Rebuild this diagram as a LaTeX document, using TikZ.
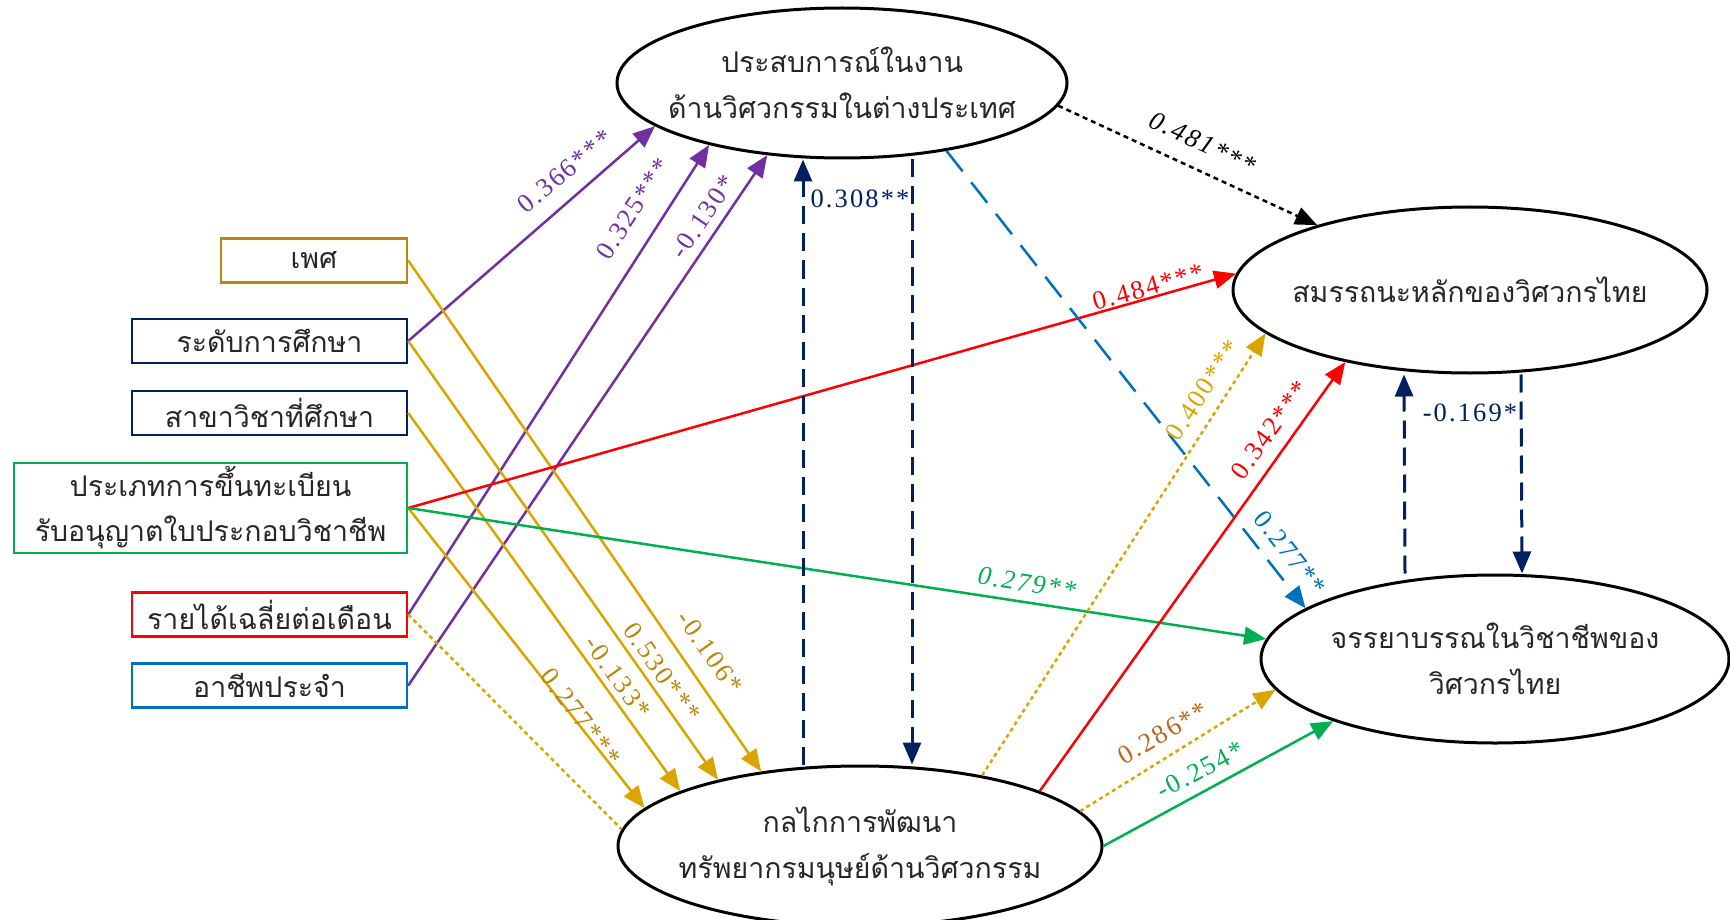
\documentclass[tikz,border=0pt]{standalone}
\usepackage{fontspec}
\setmainfont{Liberation Serif}
\newfontfamily\thaifont[Script=Thai]{Loma}
\newfontfamily\coeffont[LetterSpace=8]{Liberation Serif}
\usetikzlibrary{arrows.meta,shapes.geometric}

\definecolor{navy}{HTML}{002060}
\definecolor{purp}{HTML}{7030A0}
\definecolor{gold}{RGB}{218,165,0}
\definecolor{darkgold}{HTML}{B8860B}
\definecolor{grn}{HTML}{00B050}
\definecolor{blu}{HTML}{0070C0}
\definecolor{brn}{RGB}{192,100,25}

\tikzset{
	var/.style={draw=#1, line width=2.5pt, minimum width=275pt, minimum height=44pt, inner sep=0pt, align=center,
		font=\thaifont\fontsize{28.5}{45}\selectfont, text=black!85},
	latent/.style={ellipse, draw, line width=3pt, inner sep=-40pt, align=center,
		font=\thaifont\fontsize{28.5}{46}\selectfont, text=black!85},
	eff/.style={line width=2.5pt, -{Triangle[length=22pt,width=18pt]}},
	navydash/.style={eff, navy, line width=3pt, dash pattern=on 18pt off 9pt},
	goldline/.style={line width=2.5pt, gold, dash pattern=on 4pt off 3.5pt},
	coef/.style={font=\coeffont\fontsize{26.5}{26.5}\selectfont, inner sep=1pt},
}

\begin{document}
\begin{tikzpicture}[x=1pt, y=-1pt]
	\useasboundingbox (0,0) rectangle (1730,920);

	\node[var=darkgold, minimum width=186pt] (sex)   at (314,260.5) {เพศ};
	\node[var=navy]                          (edu)   at (269.5,341) {ระดับการศึกษา};
	\node[var=navy]                          (major) at (269.5,413) {สาขาวิชาที่ศึกษา};
	\node[var=grn, minimum width=393pt, minimum height=90pt] (lic) at (210.5,508)
		{ประเภทการขึ้นทะเบียน\\รับอนุญาตใบประกอบวิชาชีพ};
	\node[var=red]                           (inc)   at (269.5,614.5) {รายได้เฉลี่ยต่อเดือน};
	\node[var=blu]                           (job)   at (269.5,685.5) {อาชีพประจำ};

	\node[latent, minimum width=450pt, minimum height=150pt] (exp)   at (842,83)
		{ประสบการณ์ในงาน\\ด้านวิศวกรรมในต่างประเทศ};
	\node[latent, minimum width=474pt, minimum height=166pt] (comp)  at (1470,290)
		{สมรรถนะหลักของวิศวกรไทย};
	\node[latent, minimum width=468pt, minimum height=168pt] (ethic) at (1495,659)
		{จรรยาบรรณในวิชาชีพของ\\วิศวกรไทย};
	\node[latent, minimum width=484pt, minimum height=160pt] (mech)  at (860,846)
		{กลไกการพัฒนา\\ทรัพยากรมนุษย์ด้านวิศวกรรม};

	\draw[eff, purp] (edu.east) -- (exp.193.5);
	\draw[eff, purp] (inc.east) -- (exp.205.9);
	\draw[eff, purp] (job.east) -- (exp.224.6);

	\draw[eff, gold] (sex.east)   -- (mech.143.5);
	\draw[eff, gold] (edu.east)   -- (mech.155.7);
	\draw[eff, gold] (major.east) -- (mech.163.5);
	\draw[eff, gold] (lic.east)   -- (mech.170.5);
	\draw[goldline]  (inc.east)   -- (mech.176.9);

	\draw[eff, red] (lic.east) -- (comp.176.6);
	\draw[eff, grn] (lic.east) -- (ethic.175.3);

	\draw[navydash] ([xshift=-57pt]mech.north) -- ([xshift=-39pt]exp.south);
	\draw[navydash] ([xshift=70pt]exp.south) -- ([xshift=52pt]mech.north);

	\draw[eff, dash pattern=on 5pt off 4pt] (exp.354.2) -- (comp.157.7);
	\draw[eff, blu, dash pattern=on 26pt off 14pt] (exp.327.6) -- (ethic.165.1);

	\draw[eff, gold, dash pattern=on 4pt off 3.5pt] (mech.30.5) -- (comp.192.7);
	\draw[eff, red] (mech.17.1) -- (comp.210.3);
	\draw[eff, gold, dash pattern=on 4pt off 3.5pt] (mech.9.7) -- (ethic.188.6);
	\draw[eff, grn] (mech.0) -- (ethic.201.8);

	\draw[navydash] ([xshift=-90pt]ethic.north) -- ([xshift=-66pt]comp.south);
	\draw[navydash] ([xshift=51pt]comp.south) -- ([xshift=27pt]ethic.north);

	\node[coef, text=purp, rotate=40]  (c366) at (565,171) {0.366***};
	\node[coef, text=purp, rotate=57]  (c325) at (633,209) {0.325***};
	\node[coef, text=purp, rotate=56]  (c130) at (703,217) {-0.130*};
	\node[coef, text=navy]             (c308) at (860,199) {0.308**};
	\node[coef, text=black, rotate=-25.5, font=\coeffont\itshape\fontsize{26.5}{26.5}\selectfont] (c481) at (1203,143) {0.481***};
	\node[coef, text=red, rotate=15.7] (c484) at (1148,287) {0.484***};
	\node[coef, text=gold, rotate=56.6] (c400) at (1203,390) {0.400***};
	\node[coef, text=red, rotate=54.3] (c342) at (1270,430) {0.342***};
	\node[coef, text=blu, rotate=-52]  (c277b) at (1290,553) {0.277**};
	\node[coef, text=grn, rotate=-8.8, font=\coeffont\itshape\fontsize{26.5}{26.5}\selectfont] (c279) at (1027,583) {0.279**};
	\node[coef, text=brn, rotate=30.2] (c286) at (1163,733) {0.286**};
	\node[coef, text=grn, rotate=27.7] (c254) at (1200,770) {-0.254*};
	\node[coef, text=navy]             (c169) at (1470,413) {-0.169*};
	\node[coef, text=darkgold, rotate=-55]   (c106) at (710,652) {-0.106*};
	\node[coef, text=darkgold, rotate=-55]   (c530) at (662,672) {0.530***};
	\node[coef, text=darkgold, rotate=-54.4] (c133) at (618,677) {-0.133*};
	\node[coef, text=darkgold, rotate=-52.5] (c277) at (581,717) {0.277***};
\end{tikzpicture}
\end{document}
